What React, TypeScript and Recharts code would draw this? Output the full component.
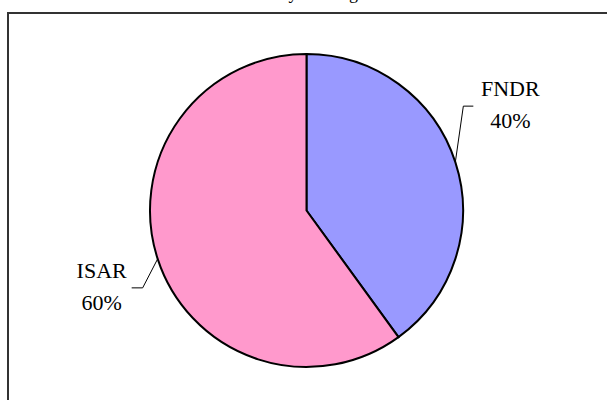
import React from 'react';
import { PieChart, Pie, Cell, Customized } from 'recharts';

const categories = ['FNDR', 'ISAR'];
const shares = [40, 60];
const colors = ['#9999FF', '#FF99CC'];
const titleText = 'Distribution by funding';

const data = categories.map((name, i) => ({ name, value: shares[i] }));

const RAD = Math.PI / 180;
const SERIF = 'Liberation Serif, Times New Roman, serif';

const labelLayout: Record<string, { ex: number; ey: number; hx: number; tx: number }> = {
  FNDR: { ex: 8, ey: -56, hx: 10, tx: 37 },
  ISAR: { ex: -15, ey: 29, hx: -11, tx: -30 },
};

const renderLabel = (props: any) => {
  const { cx, cy, midAngle, outerRadius, name, percent } = props;
  const lay = labelLayout[name];
  if (!lay) return null;
  const x0 = cx + outerRadius * Math.cos(-midAngle * RAD);
  const y0 = cy + outerRadius * Math.sin(-midAngle * RAD);
  const x1 = x0 + lay.ex;
  const y1 = y0 + lay.ey;
  const x2 = x1 + lay.hx;
  const tx = x2 + lay.tx;
  return (
    <g>
      <polyline points={`${x0},${y0} ${x1},${y1} ${x2},${y1}`} fill="none" stroke="#000" strokeWidth={1} />
      <text x={tx} y={y1 - 10} textAnchor="middle" style={{ fontFamily: SERIF, fontSize: 22 }} fill="#000">
        {name}
      </text>
      <text x={tx} y={y1 + 22} textAnchor="middle" style={{ fontFamily: SERIF, fontSize: 22 }} fill="#000">
        {`${Math.round(percent * 100)}%`}
      </text>
    </g>
  );
};

const Frame = () => (
  <g>
    <text x={358} y={-1.5} textAnchor="end" style={{ fontFamily: SERIF, fontSize: 18 }} fill="#000">
      {titleText}
    </text>
    <rect x={8} y={13} width={620} height={400} fill="none" stroke="#333" strokeWidth={2} />
  </g>
);

export default function App() {
  return (
    <div style={{ position: 'absolute', left: 0, top: 0, width: 607, height: 400, background: '#fff' }}>
      <PieChart width={607} height={400} margin={{ top: 0, right: 0, bottom: 0, left: 0 }} style={{ overflow: 'visible' }}>
        <Customized component={Frame} />
        <Pie
          data={data}
          dataKey="value"
          nameKey="name"
          cx={306.5}
          cy={210.5}
          outerRadius={156.5}
          startAngle={90}
          endAngle={-270}
          stroke="#000"
          strokeWidth={2}
          label={renderLabel}
          labelLine={false}
          isAnimationActive={false}
        >
          {data.map((d, i) => (
            <Cell key={d.name} fill={colors[i]} />
          ))}
        </Pie>
      </PieChart>
    </div>
  );
}
